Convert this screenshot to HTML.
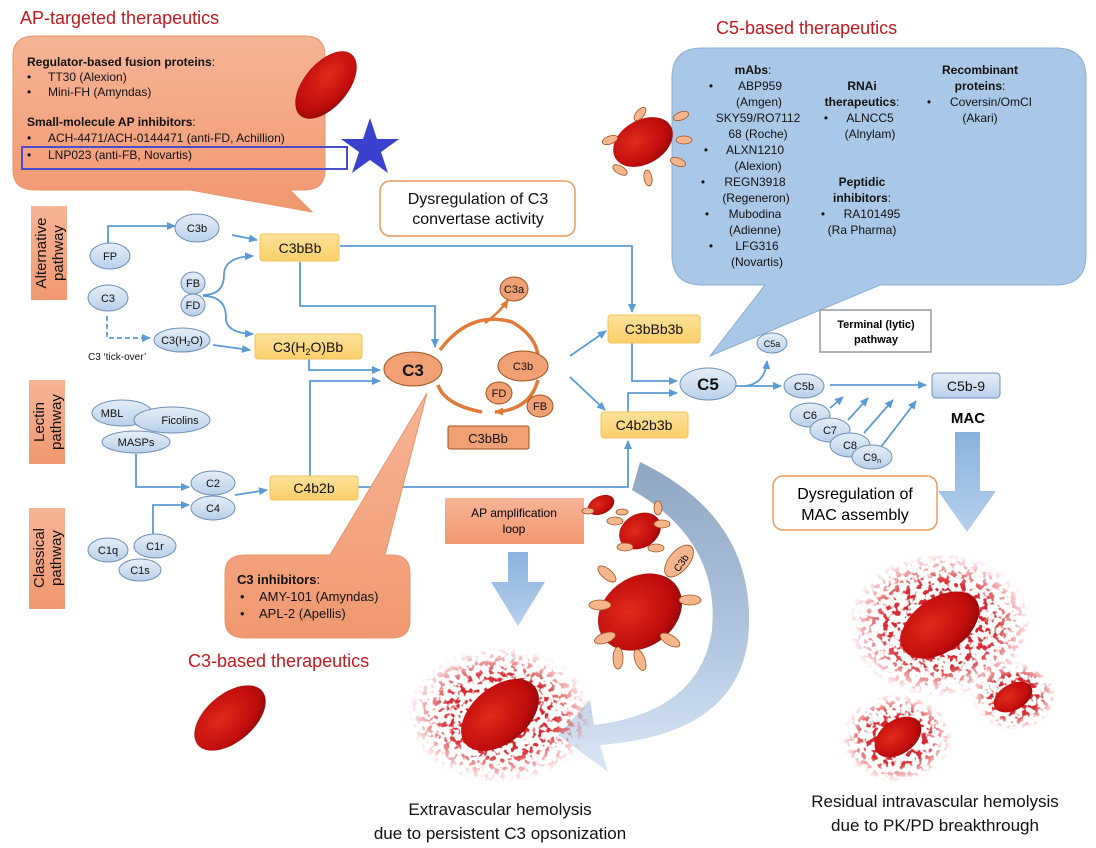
<!DOCTYPE html>
<html><head><meta charset="utf-8"><style>
html,body{margin:0;padding:0;background:#fff}
svg{display:block;font-family:"Liberation Sans",Arial,sans-serif}
</style></head><body>
<svg width="1096" height="848" viewBox="0 0 1096 848" xmlns="http://www.w3.org/2000/svg">
<defs>
<marker id="a" markerWidth="10" markerHeight="10" refX="8" refY="5" orient="auto" markerUnits="userSpaceOnUse"><path d="M0,1 L9,5 L0,9 z" fill="#5b9bd5"/></marker>
<marker id="o" markerWidth="10" markerHeight="10" refX="8" refY="5" orient="auto" markerUnits="userSpaceOnUse"><path d="M0,1 L9,5 L0,9 z" fill="#e07b3a"/></marker>
<radialGradient id="rbc" cx="0.4" cy="0.4" r="0.7"><stop offset="0" stop-color="#e02a1a"/><stop offset="0.7" stop-color="#c00d0d"/><stop offset="1" stop-color="#8a0505"/></radialGradient>
<radialGradient id="spg" cx="0.5" cy="0.5" r="0.5"><stop offset="0" stop-color="#d0161c" stop-opacity="1"/><stop offset="0.6" stop-color="#d41a22" stop-opacity="0.9"/><stop offset="1" stop-color="#e03a40" stop-opacity="0"/></radialGradient>
<filter id="splat" x="-10%" y="-10%" width="120%" height="120%">
<feTurbulence type="fractalNoise" baseFrequency="0.18" numOctaves="2" seed="3" result="n"/>
<feColorMatrix in="n" type="matrix" values="0 0 0 0 0  0 0 0 0 0  0 0 0 0 0  0 0 0 9 -4.6" result="m"/>
<feComposite in="SourceGraphic" in2="m" operator="in"/>
</filter>
<linearGradient id="og" x1="0" y1="0" x2="0" y2="1"><stop offset="0" stop-color="#f7b496"/><stop offset="1" stop-color="#f09870"/></linearGradient>
<linearGradient id="yg" x1="0" y1="0" x2="0" y2="1"><stop offset="0" stop-color="#fde29a"/><stop offset="1" stop-color="#f9cf6a"/></linearGradient>
<linearGradient id="bg" x1="0" y1="0" x2="0" y2="1"><stop offset="0" stop-color="#e5eef8"/><stop offset="1" stop-color="#b9d0ea"/></linearGradient>
<linearGradient id="arr" x1="0" y1="0" x2="0" y2="1"><stop offset="0" stop-color="#8ab2dc"/><stop offset="1" stop-color="#b7d0ec"/></linearGradient>
<linearGradient id="cur" x1="0" y1="0" x2="0" y2="1"><stop offset="0" stop-color="#8fa6c2"/><stop offset="0.6" stop-color="#b3c8e0"/><stop offset="1" stop-color="#dbe7f5"/></linearGradient>
</defs>

<text x="20" y="24" font-size="18" fill="#c0191e">AP-targeted therapeutics</text>
<text x="716" y="34" font-size="18" fill="#c0191e">C5-based therapeutics</text>
<text x="188" y="667" font-size="18" fill="#c0191e">C3-based therapeutics</text>

<path d="M35,36 H305 Q325,36 325,56 V170 Q325,190 305,190 H290 L312,212 L190,190 H35 Q13,190 13,170 V56 Q13,36 35,36 Z" fill="url(#og)" stroke="#e9956c"/>
<g font-size="12" fill="#111">
<text x="27" y="66" font-weight="bold">Regulator-based fusion proteins<tspan font-weight="normal">:</tspan></text>
<text x="27" y="81">•</text><text x="48" y="81">TT30 (Alexion)</text>
<text x="27" y="96">•</text><text x="48" y="96">Mini-FH (Amyndas)</text>
<text x="27" y="126" font-weight="bold">Small-molecule AP inhibitors<tspan font-weight="normal">:</tspan></text>
<text x="27" y="142">•</text><text x="48" y="142">ACH-4471/ACH-0144471 (anti-FD, Achillion)</text>
<text x="27" y="159">•</text><text x="48" y="159">LNP023 (anti-FB, Novartis)</text>
</g>
<rect x="22" y="147" width="325" height="22" fill="none" stroke="#4a4ec8" stroke-width="2"/>
<ellipse cx="326" cy="85" rx="22" ry="40" transform="rotate(40 326 85)" fill="url(#rbc)"/>
<path d="M370,118 L377,139 L399,139 L381,152 L388,173 L370,160 L352,173 L359,152 L341,139 L363,139 Z" fill="#3b41cf"/>

<path d="M702,48 H1056 Q1086,48 1086,78 V255 Q1086,285 1056,285 H880 L710,356 L765,285 H702 Q672,285 672,255 V78 Q672,48 702,48 Z" fill="#a9c8e8" stroke="#8aaed3"/>
<g font-size="12" fill="#111" text-anchor="middle">
<text x="753" y="74"><tspan font-weight="bold">mAbs</tspan>:</text>
<text x="711" y="90">•</text><text x="760" y="90">ABP959</text>
<text x="759" y="106">(Amgen)</text>
<text x="758" y="122">SKY59/RO7112</text>
<text x="758" y="138">68 (Roche)</text>
<text x="706" y="154">•</text><text x="755" y="154">ALXN1210</text>
<text x="758" y="170">(Alexion)</text>
<text x="703" y="186">•</text><text x="755" y="186">REGN3918</text>
<text x="756" y="202">(Regeneron)</text>
<text x="707" y="218">•</text><text x="755" y="218">Mubodina</text>
<text x="755" y="234">(Adienne)</text>
<text x="711" y="250">•</text><text x="757" y="250">LFG316</text>
<text x="757" y="266">(Novartis)</text>
<text x="862" y="90" font-weight="bold">RNAi</text>
<text x="862" y="106"><tspan font-weight="bold">therapeutics</tspan>:</text>
<text x="826" y="122">•</text><text x="870" y="122">ALNCC5</text>
<text x="870" y="138">(Alnylam)</text>
<text x="862" y="186" font-weight="bold">Peptidic</text>
<text x="862" y="202"><tspan font-weight="bold">inhibitors</tspan>:</text>
<text x="823" y="218">•</text><text x="872" y="218">RA101495</text>
<text x="862" y="234">(Ra Pharma)</text>
<text x="980" y="74" font-weight="bold">Recombinant</text>
<text x="980" y="90"><tspan font-weight="bold">proteins</tspan>:</text>
<text x="929" y="106">•</text><text x="991" y="106">Coversin/OmCI</text>
<text x="980" y="122">(Akari)</text>
</g>
<g>
<ellipse cx="643" cy="142" rx="32" ry="22" transform="rotate(-30 643 142)" fill="url(#rbc)"/>
<g fill="#f5b68e" stroke="#a0521e" stroke-width="0.8">
<ellipse cx="681" cy="116" rx="8" ry="4" transform="rotate(-20 681 116)"/>
<ellipse cx="684" cy="140" rx="8" ry="4"/>
<ellipse cx="678" cy="162" rx="8" ry="4" transform="rotate(20 678 162)"/>
<ellipse cx="648" cy="178" rx="4" ry="8" transform="rotate(-10 648 178)"/>
<ellipse cx="620" cy="170" rx="8" ry="4" transform="rotate(30 620 170)"/>
<ellipse cx="610" cy="140" rx="8" ry="4" transform="rotate(-20 610 140)"/>
<ellipse cx="640" cy="114" rx="4" ry="8" transform="rotate(40 640 114)"/>
</g></g>

<rect x="380" y="181" width="195" height="55" rx="10" fill="#fff" stroke="#eb9b5e" stroke-width="1.5"/>
<text x="478" y="204" font-size="16" text-anchor="middle" fill="#111">Dysregulation of C3</text>
<text x="478" y="224" font-size="16" text-anchor="middle" fill="#111">convertase activity</text>

<g fill="url(#og)">
<rect x="31" y="206" width="36" height="94"/>
<rect x="29" y="380" width="36" height="84"/>
<rect x="29" y="508" width="36" height="101"/>
</g>
<g font-size="15" fill="#111" text-anchor="middle">
<text transform="translate(46 253) rotate(-90)">Alternative</text>
<text transform="translate(63 253) rotate(-90)">pathway</text>
<text transform="translate(44 422) rotate(-90)">Lectin</text>
<text transform="translate(61 422) rotate(-90)">pathway</text>
<text transform="translate(44 558) rotate(-90)">Classical</text>
<text transform="translate(61 558) rotate(-90)">pathway</text>
</g>

<g fill="none" stroke="#5b9bd5" stroke-width="1.8">
<path d="M108,245 V226 H175" marker-end="url(#a)"/>
<path d="M232,235 L257,240" marker-end="url(#a)"/>
<path d="M203,295 Q224,295 224,275 Q224,257 253,256" marker-end="url(#a)"/>
<path d="M203,296 Q226,296 226,318 Q226,333 253,334" marker-end="url(#a)"/>
<path d="M107,316 V338 H150" stroke-dasharray="5,3" marker-end="url(#a)"/>
<path d="M213,345 L250,350" marker-end="url(#a)"/>
<path d="M300,262 V306 H435 V347" marker-end="url(#a)"/>
<path d="M340,246 H632 V312" marker-end="url(#a)"/>
<path d="M309,359 V370 H380" marker-end="url(#a)"/>
<path d="M310,476 V381 H380" marker-end="url(#a)"/>
<path d="M358,487 H628 V441" marker-end="url(#a)"/>
<path d="M136,454 V487 H189" marker-end="url(#a)"/>
<path d="M153,535 V505 H189" marker-end="url(#a)"/>
<path d="M235,495 L267,490" marker-end="url(#a)"/>
<path d="M570,356 L606,331" marker-end="url(#a)"/>
<path d="M570,377 L605,410" marker-end="url(#a)"/>
<path d="M632,343 V381 H677" marker-end="url(#a)"/>
<path d="M628,412 V393 H677" marker-end="url(#a)"/>
<path d="M733,386 H781" marker-end="url(#a)"/>
<path d="M745,386 Q765,384 767,361" marker-end="url(#a)"/>
<path d="M830,385 H926" marker-end="url(#a)"/>
<path d="M830,408 L843,397" marker-end="url(#a)"/>
<path d="M848,420 L868,398" marker-end="url(#a)"/>
<path d="M864,433 L893,400" marker-end="url(#a)"/>
<path d="M881,447 L916,401" marker-end="url(#a)"/>
</g>

<g fill="url(#bg)" stroke="#6f8fb3" stroke-width="1">
<ellipse cx="110" cy="256" rx="20" ry="13"/>
<ellipse cx="197" cy="228" rx="22" ry="14"/>
<ellipse cx="108" cy="298" rx="20" ry="13"/>
<ellipse cx="193" cy="283" rx="12" ry="11"/>
<ellipse cx="193" cy="305" rx="12" ry="11"/>
<ellipse cx="182" cy="340" rx="28" ry="12"/>
<ellipse cx="122" cy="413" rx="30" ry="13"/>
<ellipse cx="172" cy="420" rx="38" ry="13"/>
<ellipse cx="136" cy="442" rx="34" ry="11"/>
<ellipse cx="213" cy="483" rx="22" ry="12"/>
<ellipse cx="213" cy="508" rx="22" ry="12"/>
<ellipse cx="108" cy="550" rx="20" ry="12"/>
<ellipse cx="155" cy="546" rx="21" ry="12"/>
<ellipse cx="140" cy="570" rx="21" ry="11"/>
<ellipse cx="708" cy="384" rx="28" ry="16"/>
<ellipse cx="772" cy="343" rx="15" ry="10"/>
<ellipse cx="804" cy="386" rx="20" ry="12"/>
<ellipse cx="810" cy="415" rx="20" ry="12"/>
<ellipse cx="830" cy="430" rx="20" ry="12"/>
<ellipse cx="850" cy="445" rx="20" ry="12"/>
<ellipse cx="872" cy="457" rx="20" ry="12"/>
<rect x="932" y="373" width="68" height="25" rx="4"/>
</g>
<g font-size="11" fill="#111" text-anchor="middle">
<text x="110" y="260">FP</text>
<text x="197" y="232">C3b</text>
<text x="108" y="302">C3</text>
<text x="193" y="287">FB</text>
<text x="193" y="309">FD</text>
<text x="182" y="344">C3(H<tspan font-size="7" dy="2">2</tspan><tspan dy="-2">O)</tspan></text>
<text x="112" y="417">MBL</text>
<text x="180" y="424">Ficolins</text>
<text x="136" y="446">MASPs</text>
<text x="213" y="487">C2</text>
<text x="213" y="512">C4</text>
<text x="108" y="554">C1q</text>
<text x="155" y="550">C1r</text>
<text x="140" y="574">C1s</text>
<text x="772" y="347" font-size="9">C5a</text>
<text x="804" y="390">C5b</text>
<text x="810" y="419">C6</text>
<text x="830" y="434">C7</text>
<text x="850" y="449">C8</text>
<text x="872" y="461">C9<tspan font-size="7" dy="2">n</tspan></text>
<text x="966" y="391" font-size="14">C5b-9</text>
<text x="708" y="390" font-size="17" font-weight="bold">C5</text>
</g>
<text x="88" y="360" font-size="10" fill="#111">C3 ‘tick-over’</text>

<g fill="url(#yg)" stroke="#f3c25a">
<rect x="260" y="234" width="79" height="27" rx="3"/>
<rect x="255" y="334" width="107" height="25" rx="3"/>
<rect x="270" y="476" width="88" height="24" rx="3"/>
<rect x="608" y="315" width="92" height="28" rx="3"/>
<rect x="601" y="412" width="87" height="26" rx="3"/>
</g>
<g font-size="14" fill="#111" text-anchor="middle">
<text x="300" y="253">C3bBb</text>
<text x="308" y="352">C3(H<tspan font-size="9" dy="3">2</tspan><tspan dy="-3">O)Bb</tspan></text>
<text x="314" y="493">C4b2b</text>
<text x="654" y="334">C3bBb3b</text>
<text x="644" y="430">C4b2b3b</text>
</g>

<g fill="none" stroke="#e07b3a" stroke-width="3.5">
<path d="M440,350 Q470,310 512,322 Q535,335 538,355"/>
<path d="M538,380 Q530,410 495,412" marker-end="url(#o)"/>
<path d="M482,412 Q445,405 438,385"/>
<path d="M485,323 Q500,312 508,300" stroke-width="2.5" marker-end="url(#o)"/>
</g>
<g fill="#f0a072" stroke="#a0521e" stroke-width="1">
<ellipse cx="413" cy="369" rx="29" ry="17"/>
<ellipse cx="514" cy="289" rx="14" ry="12"/>
<ellipse cx="523" cy="366" rx="25" ry="15"/>
<ellipse cx="499" cy="393" rx="13" ry="11"/>
<ellipse cx="540" cy="406" rx="13" ry="11"/>
<rect x="448" y="426" width="81" height="23" rx="2"/>
</g>
<g font-size="11" fill="#111" text-anchor="middle">
<text x="413" y="376" font-size="17" font-weight="bold">C3</text>
<text x="514" y="293">C3a</text>
<text x="523" y="370">C3b</text>
<text x="499" y="397">FD</text>
<text x="540" y="410">FB</text>
<text x="488" y="443" font-size="13">C3bBb</text>
</g>

<path d="M245,555 H330 L427,393 L385,555 H392 Q410,555 410,573 V620 Q410,638 392,638 H245 Q225,638 225,620 V573 Q225,555 245,555 Z" fill="url(#og)" stroke="#e9956c"/>
<g font-size="13" fill="#111">
<text x="237" y="584"><tspan font-weight="bold">C3 inhibitors</tspan>:</text>
<text x="240" y="601">•</text><text x="259" y="601">AMY-101 (Amyndas)</text>
<text x="240" y="618">•</text><text x="259" y="618">APL-2 (Apellis)</text>
</g>

<rect x="820" y="310" width="111" height="42" fill="#fff" stroke="#999" stroke-width="1.5"/>
<text x="876" y="328" font-size="11" font-weight="bold" text-anchor="middle">Terminal (lytic)</text>
<text x="876" y="343" font-size="11" font-weight="bold" text-anchor="middle">pathway</text>
<text x="968" y="423" font-size="15" font-weight="bold" text-anchor="middle">MAC</text>
<rect x="773" y="476" width="164" height="54" rx="10" fill="#fff" stroke="#eb9b5e" stroke-width="1.5"/>
<text x="855" y="499" font-size="16" text-anchor="middle">Dysregulation of</text>
<text x="855" y="520" font-size="16" text-anchor="middle">MAC assembly</text>

<rect x="445" y="498" width="139" height="46" fill="url(#og)"/>
<text x="514" y="517" font-size="12" text-anchor="middle">AP amplification</text>
<text x="514" y="533" font-size="12" text-anchor="middle">loop</text>

<path d="M508,552 H528 V582 H545 L518,626 L491,582 H508 Z" fill="url(#arr)"/>
<path d="M955,432 H980 V491 H996 L967,532 L938,491 H955 Z" fill="url(#arr)"/>

<path d="M640,462 Q760,520 748,640 Q735,735 600,745 L608,772 L558,735 L590,700 L594,725 Q700,712 712,630 Q720,540 632,490 Z" fill="url(#cur)"/>

<g>
<ellipse cx="601" cy="505" rx="14" ry="9" transform="rotate(-25 601 505)" fill="url(#rbc)"/>
<ellipse cx="640" cy="531" rx="22" ry="17" transform="rotate(-30 640 531)" fill="url(#rbc)"/>
<ellipse cx="640" cy="612" rx="45" ry="35" transform="rotate(-35 640 612)" fill="url(#rbc)"/>
<g fill="#f5b68e" stroke="#a0521e" stroke-width="0.8">
<ellipse cx="622" cy="512" rx="6" ry="3"/>
<ellipse cx="588" cy="511" rx="6" ry="3"/>
<ellipse cx="615" cy="521" rx="8" ry="4"/>
<ellipse cx="662" cy="524" rx="8" ry="4"/>
<ellipse cx="656" cy="548" rx="8" ry="4"/>
<ellipse cx="625" cy="547" rx="8" ry="4"/>
<ellipse cx="658" cy="508" rx="4" ry="7"/>
<ellipse cx="679" cy="561" rx="10" ry="19" transform="rotate(40 679 561)"/>
<ellipse cx="607" cy="574" rx="11" ry="5" transform="rotate(40 607 574)"/>
<ellipse cx="600" cy="605" rx="11" ry="5"/>
<ellipse cx="690" cy="600" rx="11" ry="5"/>
<ellipse cx="605" cy="638" rx="11" ry="5" transform="rotate(-20 605 638)"/>
<ellipse cx="670" cy="640" rx="11" ry="5" transform="rotate(30 670 640)"/>
<ellipse cx="618" cy="658" rx="5" ry="11"/>
<ellipse cx="640" cy="660" rx="5" ry="11" transform="rotate(-20 640 660)"/>
</g>
<text transform="translate(684 565) rotate(-55)" font-size="10" text-anchor="middle">C3b</text>
</g>

<ellipse cx="230" cy="718" rx="42" ry="24" transform="rotate(-40 230 718)" fill="url(#rbc)"/>

<!-- splatter -->
<g filter="url(#splat)">
<ellipse cx="500" cy="715" rx="92" ry="68" fill="url(#spg)"/>
<ellipse cx="940" cy="625" rx="92" ry="72" fill="url(#spg)"/>
<ellipse cx="1014" cy="696" rx="42" ry="34" fill="url(#spg)"/>
<ellipse cx="897" cy="738" rx="55" ry="44" fill="url(#spg)"/>
</g>
<ellipse cx="500" cy="715" rx="45" ry="28" transform="rotate(-40 500 715)" fill="url(#rbc)"/>
<ellipse cx="940" cy="625" rx="44" ry="27" transform="rotate(-35 940 625)" fill="url(#rbc)"/>
<ellipse cx="1013" cy="697" rx="21" ry="13" transform="rotate(-30 1013 697)" fill="url(#rbc)"/>
<ellipse cx="898" cy="737" rx="26" ry="17" transform="rotate(-35 898 737)" fill="url(#rbc)"/>

<g font-size="17" fill="#111" text-anchor="middle">
<text x="500" y="815">Extravascular hemolysis</text>
<text x="500" y="839">due to persistent C3 opsonization</text>
<text x="935" y="807">Residual intravascular hemolysis</text>
<text x="935" y="831">due to PK/PD breakthrough</text>
</g>
</svg>
</body></html>
